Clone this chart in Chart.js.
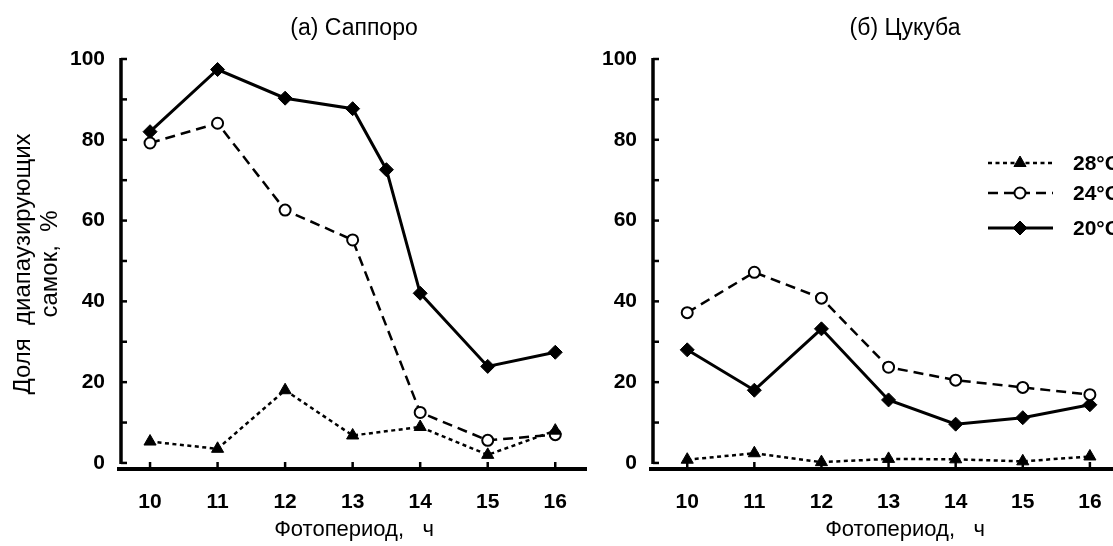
<!DOCTYPE html>
<html>
<head>
<meta charset="utf-8">
<title>Фотопериод</title>
<script src="https://cdn.jsdelivr.net/npm/chart.js"></script>
<style>
  html, body { margin: 0; padding: 0; background: #fff; overflow: hidden; }
  #wrap { position: relative; width: 1113px; height: 546px; overflow: hidden; }
  .panel { position: absolute; top: 0; }
</style>
</head>
<body>
<div id="wrap">
  <canvas id="sapporo" class="panel" style="left:0" width="600" height="546"></canvas>
  <canvas id="tsukuba" class="panel" style="left:600px" width="600" height="546"></canvas>
</div>
<script>
// photoperiod, h
var photoperiod = [10, 11, 12, 13, 14, 15, 16];
var sapporoX20 = [10, 11, 12, 13, 13.5, 14, 15, 16];
var yTicks = [0, 10, 20, 30, 40, 50, 60, 70, 80, 90, 100];

// share of diapausing females, %
var sapporo28 = [5.3, 3.5, 18, 6.8, 8.9, 2, 8];
var sapporo24 = [79.2, 84.1, 62.6, 55.2, 12.5, 5.6, 7];
var sapporo20 = [82, 97.4, 90.3, 87.7, 72.6, 42, 23.9, 27.4];

var tsukuba28 = [0.8, 2.4, 0.2, 1, 0.9, 0.4, 1.6];
var tsukuba24 = [37.2, 47.2, 40.8, 23.7, 20.5, 18.7, 16.9];
var tsukuba20 = [28, 18, 33.2, 15.6, 9.6, 11.2, 14.4];

var legendLabels = ['28°C', '24°C', '20°C'];

var FONT = '"Liberation Sans", Arial, sans-serif';

function pts(xs, ys) {
  return ys.map(function (v, i) { return { x: xs[i], y: v }; });
}

function makeSets(d28, x20, d20, d24) {
  return [
    { label: legendLabels[0], data: pts(photoperiod, d28),
      borderColor: '#000', borderWidth: 2.5, borderDash: [4, 3.5],
      pointStyle: 'triangle', pointRadius: 7, pointBackgroundColor: '#000',
      pointBorderColor: '#000', pointBorderWidth: 1 },
    { label: legendLabels[1], data: pts(photoperiod, d24),
      borderColor: '#000', borderWidth: 2.5, borderDash: [10, 6],
      pointStyle: 'circle', pointRadius: 5.5, pointBackgroundColor: '#fff',
      pointBorderColor: '#000', pointBorderWidth: 2 },
    { label: legendLabels[2], data: pts(x20, d20),
      borderColor: '#000', borderWidth: 3,
      pointStyle: 'rectRot', pointRadius: 7, pointBackgroundColor: '#000',
      pointBorderColor: '#000', pointBorderWidth: 1 }
  ];
}

// axis lines with inward ticks, like the original plot
var axesPlugin = {
  id: 'axes',
  beforeDatasetsDraw: function (chart) {
    var c = chart.ctx, a = chart.chartArea;
    var xs = chart.scales.x, ys = chart.scales.y;
    c.save();
    c.strokeStyle = '#000';
    c.setLineDash([]);
    c.lineWidth = 4;
    c.beginPath();
    c.moveTo(a.left - 4, a.bottom);
    c.lineTo(a.right, a.bottom);
    c.stroke();
    c.lineWidth = 3.5;
    c.beginPath();
    c.moveTo(a.left, ys.getPixelForValue(100) - 1);
    c.lineTo(a.left, ys.getPixelForValue(0) + 1);
    c.stroke();
    c.lineWidth = 2.5;
    yTicks.forEach(function (v) {
      var y = ys.getPixelForValue(v);
      c.beginPath();
      c.moveTo(a.left, y);
      c.lineTo(a.left + 6, y);
      c.stroke();
    });
    photoperiod.forEach(function (v) {
      var x = xs.getPixelForValue(v);
      c.beginPath();
      c.moveTo(x, a.bottom);
      c.lineTo(x, a.bottom - 7);
      c.stroke();
    });
    c.restore();
  }
};

var lineLegend = {
  id: 'lineLegend',
  afterDatasetsDraw: function (chart, args, opts) {
    if (!opts.show) return;
    var c = chart.ctx;
    var rows = [163, 193, 228];
    chart.data.datasets.forEach(function (ds, i) {
      var y = rows[i], x0 = 388, x1 = 453, xm = 420;
      c.save();
      c.strokeStyle = '#000';
      c.lineWidth = ds.borderWidth;
      c.setLineDash(ds.borderDash || []);
      c.beginPath();
      c.moveTo(x0, y);
      c.lineTo(x1, y);
      c.stroke();
      c.setLineDash([]);
      c.fillStyle = ds.pointBackgroundColor;
      c.strokeStyle = ds.pointBorderColor;
      c.lineWidth = ds.pointBorderWidth;
      Chart.helpers.drawPoint(c, { pointStyle: ds.pointStyle, radius: ds.pointRadius,
        rotation: 0, borderWidth: ds.pointBorderWidth }, xm, y);
      c.fillStyle = '#000';
      c.font = 'bold 21px ' + FONT;
      c.textBaseline = 'middle';
      c.fillText(ds.label, 473, y + 1);
      c.restore();
    });
  }
};

function makeChart(id, title, sets, xmin, xmax, yWidth, padRight, yTitle, legend) {
  return new Chart(document.getElementById(id), {
    type: 'line',
    data: { datasets: sets },
    plugins: [axesPlugin, lineLegend],
    options: {
      responsive: false,
      animation: false,
      layout: { padding: { right: padRight, top: 0, left: 0, bottom: 0 } },
      elements: { line: { tension: 0 } },
      datasets: { line: { clip: false } },
      plugins: {
        legend: { display: false },
        tooltip: { enabled: false },
        lineLegend: { show: legend },
        title: {
          display: true, text: title, color: '#000', fullSize: false,
          font: { family: FONT, size: 23, weight: 'normal', lineHeight: 1.2 },
          padding: { top: 15, bottom: 16.4 }
        }
      },
      scales: {
        x: {
          type: 'linear', min: xmin, max: xmax,
          afterFit: function (s) { s.height = 77; },
          afterBuildTicks: function (s) { s.ticks = photoperiod.map(function (v) { return { value: v }; }); },
          grid: { display: false, drawTicks: false },
          border: { display: false },
          ticks: { color: '#000', padding: 21, maxRotation: 0,
            font: { family: FONT, size: 21, weight: 'bold' } },
          title: { display: true, text: 'Фотопериод,   ч', color: '#000',
            font: { family: FONT, size: 22, weight: 'normal', lineHeight: 1.2 },
            padding: { top: 0, bottom: 3 } }
        },
        y: {
          min: -1.5, max: 100,
          afterFit: function (s) { s.width = yWidth; },
          afterBuildTicks: function (s) { s.ticks = yTicks.map(function (v) { return { value: v }; }); },
          grid: { display: false, drawTicks: false },
          border: { display: false },
          ticks: { color: '#000', padding: 16,
            callback: function (v) { return v % 20 === 0 ? v : ''; },
            font: { family: FONT, size: 21, weight: 'bold' } },
          title: { display: yTitle.length > 0, text: yTitle, color: '#000',
            font: { family: FONT, size: 24, weight: 'normal', lineHeight: 1.125 },
            padding: { top: 9.5, bottom: 0 } }
        }
      }
    }
  });
}

makeChart('sapporo', '(а) Саппоро', makeSets(sapporo28, sapporoX20, sapporo20, sapporo24),
  9.57, 16.47, 121, 13, ['Доля  диапаузирующих', 'самок,  %'], false);
makeChart('tsukuba', '(б) Цукуба', makeSets(tsukuba28, photoperiod, tsukuba20, tsukuba24),
  9.49, 17.0, 53, 43, [], true);
</script>
</body>
</html>
